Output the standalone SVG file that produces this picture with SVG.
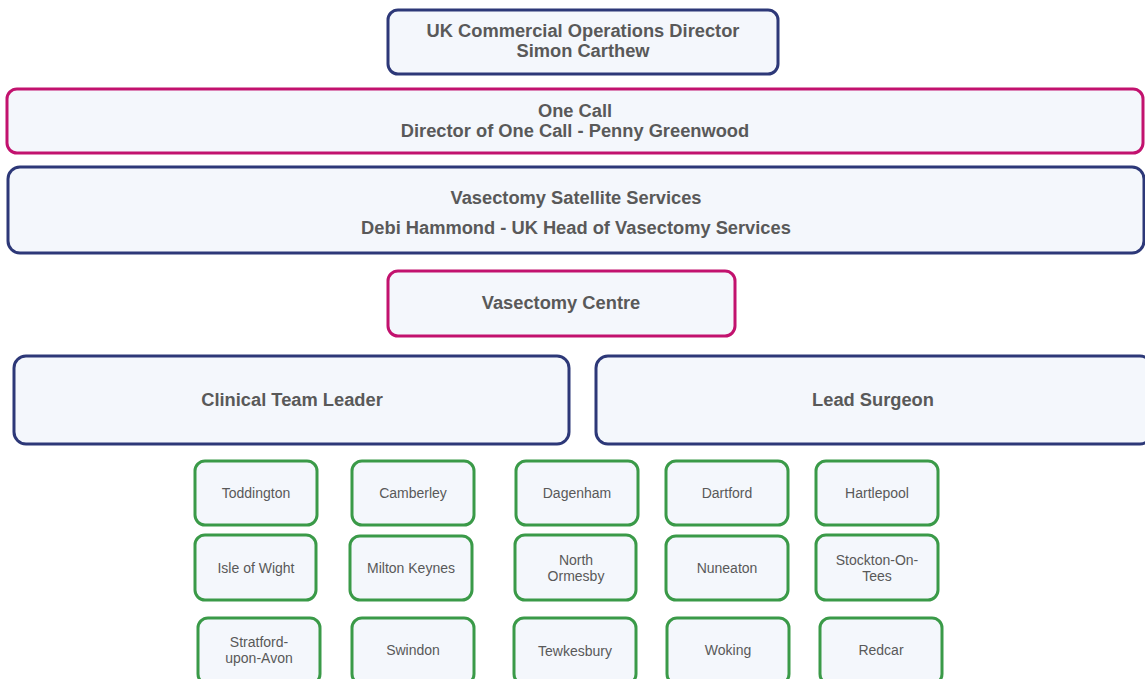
<svg xmlns="http://www.w3.org/2000/svg" width="1145" height="679" viewBox="0 0 1145 679">
<style>
rect{fill:#f4f7fc;stroke-width:3}
.n{stroke:#2d3878}
.m{stroke:#c2126e}
.g{stroke:#3a9a48}
text{font-family:"Liberation Sans",Arial,sans-serif;fill:#595959;text-anchor:middle}
.b{font-weight:bold;font-size:18.3px}
.s{font-size:14px}
</style>
<rect width="1145" height="679" style="fill:#fff;stroke:none"/>
<g id="n-director"><rect class="n" x="388" y="10" width="390" height="64" rx="10"/><text class="b" x="583" y="37">UK Commercial Operations Director</text><text class="b" x="583" y="57">Simon Carthew</text></g>
<g id="n-onecall"><rect class="m" x="7" y="89" width="1136" height="64" rx="10"/><text class="b" x="575" y="117">One Call</text><text class="b" x="575" y="137">Director of One Call - Penny Greenwood</text></g>
<g id="n-satellite"><rect class="n" x="8" y="167" width="1136" height="86" rx="12"/><text class="b" x="576" y="204">Vasectomy Satellite Services</text><text class="b" x="576" y="234">Debi Hammond - UK Head of Vasectomy Services</text></g>
<g id="n-centre"><rect class="m" x="388" y="271" width="347" height="65" rx="10"/><text class="b" x="561" y="309">Vasectomy Centre</text></g>
<g id="n-clinical"><rect class="n" x="14" y="356" width="555" height="88" rx="12"/><text class="b" x="292" y="406">Clinical Team Leader</text></g>
<g id="n-surgeon"><rect class="n" x="596" y="356" width="556" height="88" rx="12"/><text class="b" x="873" y="406">Lead Surgeon</text></g>
<g id="n-toddington"><rect class="g" x="195" y="461" width="122" height="64" rx="10"/><text class="s" x="256" y="498">Toddington</text></g>
<g id="n-camberley"><rect class="g" x="352" y="461" width="122" height="64" rx="10"/><text class="s" x="413" y="498">Camberley</text></g>
<g id="n-dagenham"><rect class="g" x="516" y="461" width="122" height="64" rx="10"/><text class="s" x="577" y="498">Dagenham</text></g>
<g id="n-dartford"><rect class="g" x="666" y="461" width="122" height="64" rx="10"/><text class="s" x="727" y="498">Dartford</text></g>
<g id="n-hartlepool"><rect class="g" x="816" y="461" width="122" height="64" rx="10"/><text class="s" x="877" y="498">Hartlepool</text></g>
<g id="n-isleofwight"><rect class="g" x="195" y="535" width="121" height="65" rx="10"/><text class="s" x="256" y="573">Isle of Wight</text></g>
<g id="n-miltonkeynes"><rect class="g" x="350" y="536" width="122" height="64" rx="10"/><text class="s" x="411" y="573">Milton Keynes</text></g>
<g id="n-northormesby"><rect class="g" x="515" y="535" width="121" height="65" rx="10"/><text class="s" x="576" y="565">North</text><text class="s" x="576" y="581">Ormesby</text></g>
<g id="n-nuneaton"><rect class="g" x="666" y="536" width="122" height="64" rx="10"/><text class="s" x="727" y="573">Nuneaton</text></g>
<g id="n-stockton"><rect class="g" x="816" y="535" width="122" height="65" rx="10"/><text class="s" x="877" y="565">Stockton-On-</text><text class="s" x="877" y="581">Tees</text></g>
<g id="n-stratford"><rect class="g" x="198" y="618" width="122" height="66" rx="10"/><text class="s" x="259" y="647">Stratford-</text><text class="s" x="259" y="663">upon-Avon</text></g>
<g id="n-swindon"><rect class="g" x="352" y="618" width="122" height="66" rx="10"/><text class="s" x="413" y="655">Swindon</text></g>
<g id="n-tewkesbury"><rect class="g" x="514" y="618" width="122" height="66" rx="10"/><text class="s" x="575" y="656">Tewkesbury</text></g>
<g id="n-woking"><rect class="g" x="667" y="618" width="122" height="66" rx="10"/><text class="s" x="728" y="655">Woking</text></g>
<g id="n-redcar"><rect class="g" x="820" y="618" width="122" height="66" rx="10"/><text class="s" x="881" y="655">Redcar</text></g>
<g id="connectors"></g>
</svg>
